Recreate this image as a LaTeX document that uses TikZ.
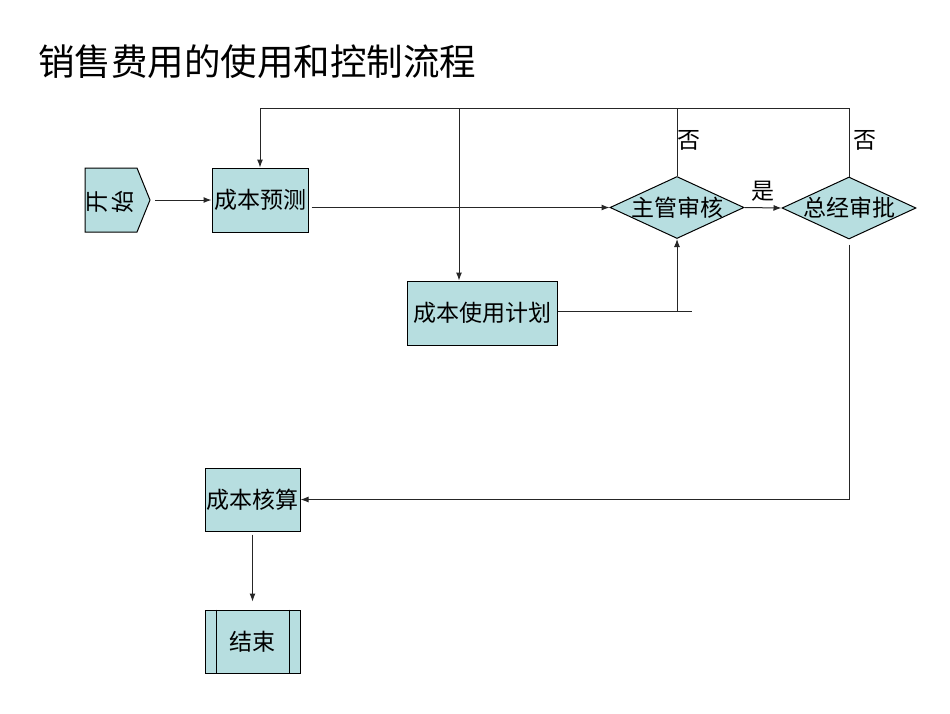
\documentclass[tikz,border=0pt]{standalone}
\usepackage{fontspec}
\newfontfamily\cjk{Noto Sans CJK SC}
\usetikzlibrary{shapes.geometric,arrows.meta}
\definecolor{boxfill}{RGB}{183,222,224}
\tikzset{
  every node/.style={font=\cjk},
  txt/.style={font=\cjk\fontsize{23}{25}\selectfont, inner sep=0pt},
  procbox/.style={draw=black, line width=1pt, fill=boxfill, inner sep=0pt, font=\cjk\fontsize{23}{25}\selectfont},
  dia/.style={diamond, draw=black, line width=1pt, fill=boxfill, inner sep=0pt, minimum width=134pt, minimum height=62pt},
  conn/.style={line width=1pt, draw=black!85},
  arr/.style={conn, -{Latex[length=8pt,width=6pt]}},
}
\begin{document}
\begin{tikzpicture}[x=1pt,y=-1pt]
\useasboundingbox (0,0) rectangle (950,713);
% title
\node[anchor=west, inner sep=0pt, font=\cjk\fontsize{36.5}{40}\selectfont] (title) at (38,62) {销售费用的使用和控制流程};
% start
\draw[line width=1pt, fill=boxfill] (85,168) -- (137,168) -- (150,200) -- (137,232) -- (85,232) -- cycle;
\coordinate (starttip) at (150,200);
\node[txt, rotate=90] (s1) at (98,202) {开};
\node[txt, rotate=90] (s2) at (123,202) {始};
% boxes
\node[procbox, minimum width=96pt, minimum height=64pt] (yc) at (260,200) {成本预测};
\node[procbox, minimum width=150pt, minimum height=64pt] (plan) at (482,313) {成本使用计划};
\node[procbox, minimum width=95pt, minimum height=63pt] (hs) at (252.5,499.5) {成本核算};
\node[procbox, minimum width=95pt, minimum height=63pt] (end) at (252.5,641.5) {结束};
\draw[line width=1pt] ([xshift=12pt]end.north west) -- ([xshift=12pt]end.south west);
\draw[line width=1pt] ([xshift=-11pt]end.north east) -- ([xshift=-11pt]end.south east);
% diamonds
\node[dia, label={[txt]center:主管审核}] (d1) at (677,207.5) {};
\node[dia, label={[txt]center:总经审批}] (d2) at (849,208) {};
% coordinates
\coordinate (top) at (849,108);
\coordinate (jp) at (459,108);
\coordinate (planend) at (692,311);
% connectors
\draw[arr, shorten <=5pt] (starttip) -- (yc.west);
\draw[arr, shorten <=3pt] (yc.east |- d1.west) -- (d1.west);
\draw[arr] (d1.east) -- node[txt, above=6pt] (yes) {是} (d2.west);
\draw[arr] (d2.north) -- (top) -| (yc.north);
\draw[conn] (d1.north) -- node[txt, pos=0.52, right=0pt] (no1) {否} (d1.north |- top);
\path (d2.north) -- node[txt, pos=0.52, right=4pt] (no2) {否} (top);
\draw[arr] (jp) -- (jp |- plan.north);
\draw[conn] (plan.east |- planend) -- (planend);
\draw[arr] (d1.south |- planend) -- (d1.south);
\draw[arr, shorten <=5pt] (d2.south) |- (hs.east);
\draw[arr, shorten <=3pt, shorten >=8pt] (hs.south) -- (end.north);
\end{tikzpicture}
\end{document}
